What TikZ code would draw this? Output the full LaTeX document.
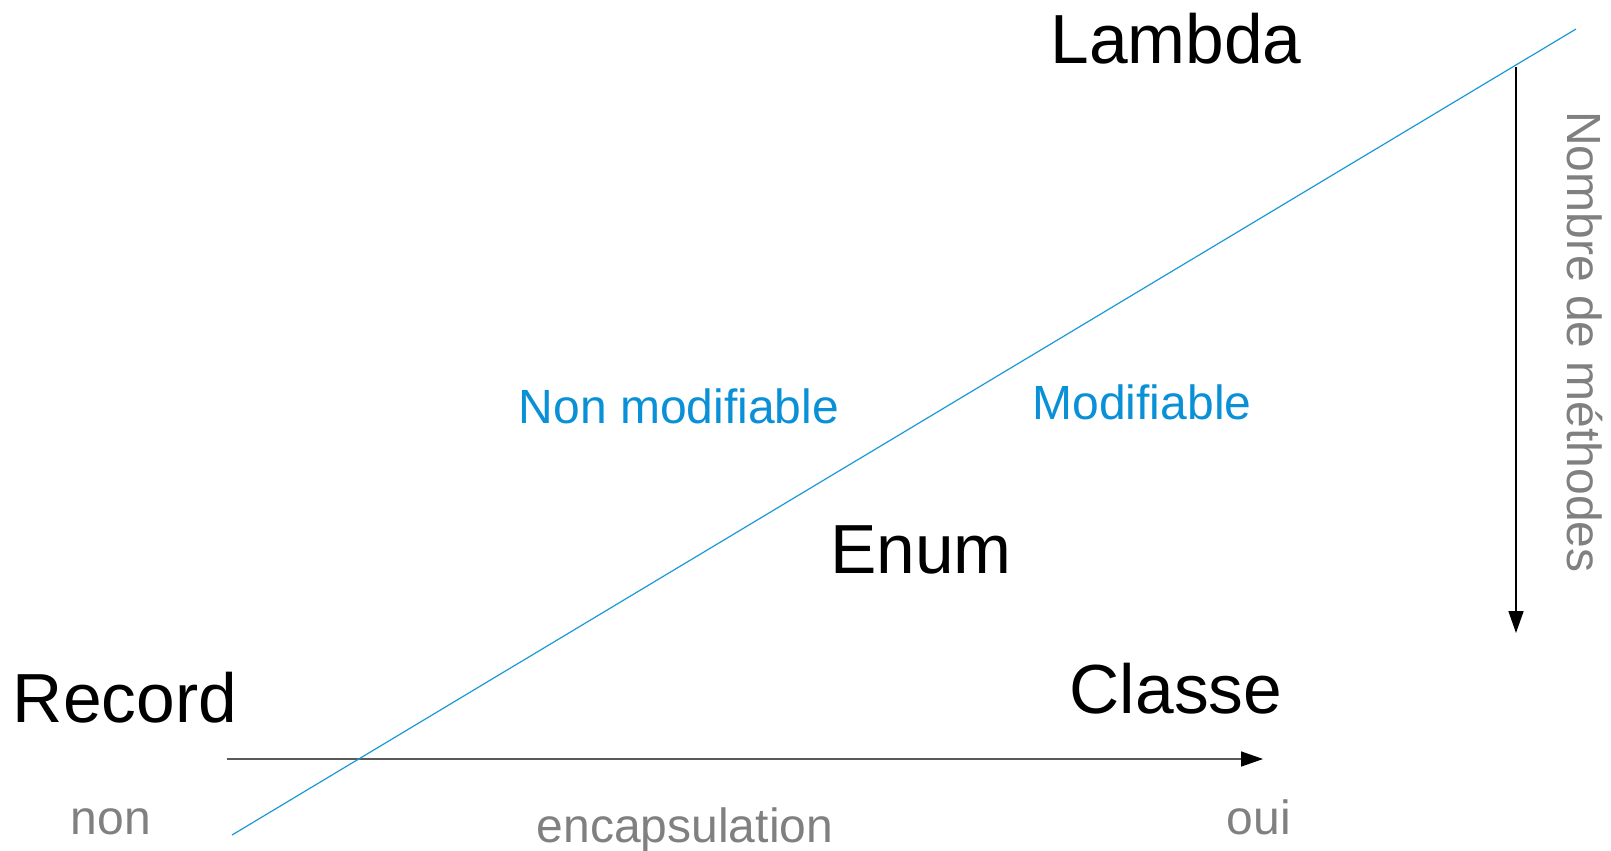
\documentclass[tikz,border=0pt]{standalone}
\usepackage{fontspec}
\setmainfont{Liberation Sans}
\usetikzlibrary{arrows.meta}
\definecolor{axisgray}{HTML}{5A5A5A}
\definecolor{labelgray}{HTML}{808080}
\definecolor{splitblue}{HTML}{1A98D8}
\definecolor{textblue}{HTML}{0A90D6}
\tikzset{
  big/.style={font=\fontsize{69.5bp}{82bp}\selectfont, text=black, inner sep=0pt, anchor=base},
  small/.style={font=\fontsize{48bp}{58bp}\selectfont, text=labelgray, inner sep=0pt, anchor=base},
  zone/.style={font=\fontsize{48bp}{58bp}\selectfont, text=textblue, inner sep=0pt, anchor=base},
  axis/.style={line width=1.5bp, -{Triangle[length=22bp,width=15bp,color=black,fill=black]}},
  split/.style={draw=splitblue, line width=1.2bp}
}
\begin{document}
\begin{tikzpicture}[x=1bp, y=-1bp]
  \useasboundingbox (0,0) rectangle (1611,850);

  % type labels
  \node[big] (record) at (125,722) {Record};
  \node[big] (classe) at (1176,713) {Classe};
  \node[big] (lambda) at (1176,63) {Lambda};
  \node[big] (enum)   at (921,573) {Enum};

  % mutability zones
  \node[zone] (nonmod) at (679,423) {Non modifiable};
  \node[zone] (mod)    at (1142,419) {Modifiable};

  % horizontal axis: encapsulation
  \coordinate (hstart) at (227,759);
  \coordinate (hend)   at (1263,759);
  \draw[axis, draw=axisgray] (hstart) -- (hend);
  \node[small] (non)   at (111,834) {non};
  \node[small] (encap) at (685,842) {encapsulation};
  \node[small] (oui)   at (1259,834) {oui};

  % dividing line between the two zones
  \coordinate (sA) at (232,835);
  \coordinate (sB) at (1576,29);
  \draw[split] (sA) -- (sB);

  % vertical axis: number of methods
  \coordinate (vstart) at (1516,67);
  \coordinate (vend)   at (1516,633);
  \draw[axis, draw=black] (vstart) -- (vend);
  \node[small, rotate=-90] (methodes) at (1567,342) {Nombre de méthodes};
\end{tikzpicture}
\end{document}
